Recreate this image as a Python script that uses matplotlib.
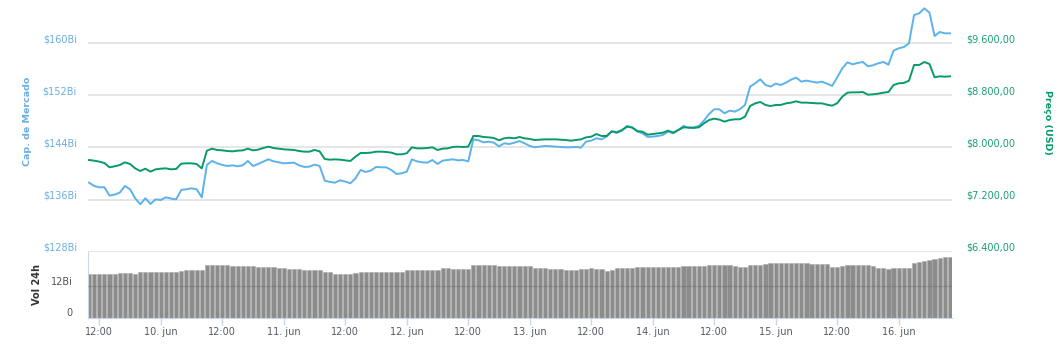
import numpy as np
import matplotlib
matplotlib.use('Agg')
import matplotlib.pyplot as plt
import matplotlib.transforms as mtransforms

# hours after 9 jun 00:00, one sample per hour
hours = np.arange(10, 179)

# market cap, billions USD
market_cap = [
    138.60, 138.09, 137.89, 137.89, 136.61, 136.76, 137.07, 138.09, 137.58, 136.20,
    135.28, 136.20, 135.33, 136.04, 135.94, 136.35, 136.15, 136.04, 137.48, 137.58,
    137.73, 137.58, 136.35, 141.32, 141.93, 141.57, 141.32, 141.16, 141.26,
    141.11, 141.26, 141.93, 141.16, 141.47, 141.83, 142.19, 141.88, 141.73, 141.57,
    141.62, 141.67, 141.26, 141.01, 141.06, 141.37, 141.16, 138.91, 138.71, 138.60,
    138.96, 138.76, 138.50, 139.27, 140.55, 140.24, 140.45, 141.01, 140.96,
    140.95, 140.54, 139.93, 140.03, 140.29, 142.18, 141.87, 141.72, 141.67, 142.08,
    141.46, 141.98, 142.08, 142.18, 142.03, 142.08, 141.87, 145.25, 145.10, 144.79,
    144.89, 144.74, 144.18, 144.64, 144.53, 144.74, 144.99, 144.64, 144.23,
    144.03, 144.13, 144.24, 144.19, 144.13, 144.08, 144.03, 144.03, 144.08, 143.98,
    144.90, 145.06, 145.41, 145.26, 145.67, 146.49, 146.23, 146.59, 147.31, 147.10,
    146.44, 146.18, 145.62, 145.67, 145.77, 145.93, 146.44, 146.18, 146.69, 147.31,
    147.05, 147.10, 147.31, 148.13, 149.15, 149.87, 149.87, 149.25, 149.66, 149.51,
    149.87, 150.53, 153.35, 153.86, 154.47, 153.60, 153.35, 153.81, 153.60, 153.96,
    154.42, 154.73, 154.11, 154.27, 154.11, 153.96, 154.11, 153.81, 153.45,
    154.78, 156.16, 157.08, 156.77, 156.98, 157.13, 156.47, 156.62, 156.93, 157.13,
    156.72, 158.87, 159.23, 159.43, 159.99, 164.35, 164.60, 165.37, 164.71, 161.12,
    161.74, 161.53, 161.53,
]

# price, USD
price = [
    7808, 7798, 7783, 7762, 7696, 7711, 7731, 7772, 7747, 7680,
    7639, 7675, 7629, 7665, 7675, 7680, 7665, 7670, 7752, 7757,
    7757, 7747, 7680, 7951, 7982, 7962, 7956, 7946, 7941,
    7951, 7956, 7982, 7956, 7967, 7992, 8013, 7992, 7982, 7972,
    7967, 7962, 7946, 7936, 7936, 7962, 7941, 7823, 7813, 7818,
    7813, 7803, 7793, 7859, 7916, 7916, 7921, 7936, 7936,
    7931, 7921, 7895, 7895, 7911, 8003, 7987, 7987, 7992, 8003,
    7962, 7982, 7987, 8008, 8013, 8008, 8013, 8177, 8177, 8161,
    8156, 8146, 8110, 8141, 8151, 8141, 8161, 8141, 8131,
    8115, 8120, 8125, 8125, 8125, 8120, 8115, 8105, 8115, 8125,
    8156, 8166, 8207, 8177, 8177, 8248, 8233, 8269, 8320, 8305,
    8253, 8243, 8197, 8207, 8218, 8228, 8259, 8228, 8269, 8310,
    8305, 8300, 8310, 8371, 8422, 8443, 8428, 8397, 8422, 8433,
    8433, 8473, 8637, 8678, 8699, 8653, 8637, 8653, 8653, 8678,
    8689, 8709, 8689, 8689, 8683, 8678, 8678, 8658, 8642,
    8680, 8781, 8842, 8847, 8847, 8852, 8811, 8817, 8827, 8842,
    8852, 8960, 8985, 8991, 9026, 9267, 9267, 9313, 9282, 9078,
    9093, 9088, 9093,
]

# 24h volume, billions USD
volume = [
    16.4, 16.4, 16.4, 16.4, 16.4, 16.5, 16.7, 16.7, 16.6, 16.3,
    17.0, 17.1, 17.1, 17.1, 17.1, 17.1, 17.3, 17.3, 17.6, 17.9,
    17.9, 17.9, 17.9, 19.8, 19.8, 19.8, 19.8, 19.7, 19.4, 19.4,
    19.3, 19.3, 19.3, 19.2, 18.9, 18.9, 18.9, 18.8, 18.5, 18.3,
    18.3, 18.2, 17.9, 17.9, 17.9, 17.8, 17.3, 17.2, 16.4, 16.4,
    16.4, 16.4, 16.8, 17.1, 17.1, 17.1, 17.3, 17.3, 17.3, 17.3,
    17.3, 17.1, 17.9, 17.9, 17.9, 17.9, 17.9, 17.9, 17.9, 18.6,
    18.6, 18.3, 18.3, 18.3, 18.3, 19.8, 19.8, 19.8, 19.8, 19.7,
    19.3, 19.3, 19.3, 19.3, 19.3, 19.3, 19.3, 18.6, 18.5, 18.5,
    18.4, 18.4, 18.3, 17.9, 17.9, 17.9, 18.2, 18.4, 18.5, 18.4,
    18.2, 17.5, 18.0, 18.6, 18.6, 18.6, 18.7, 18.9, 18.9, 18.9,
    18.9, 18.9, 18.9, 18.9, 18.9, 18.9, 19.4, 19.4, 19.4, 19.4,
    19.6, 19.8, 19.8, 19.8, 19.8, 19.8, 19.5, 18.9, 18.9, 19.8,
    19.8, 19.8, 20.1, 20.4, 20.4, 20.4, 20.4, 20.4, 20.5, 20.7,
    20.4, 20.2, 20.2, 20.2, 20.0, 19.2, 19.2, 19.5, 19.7, 19.7,
    19.7, 19.7, 19.7, 19.5, 18.6, 18.6, 18.4, 18.6, 18.6, 18.6,
    18.7, 20.7, 21.0, 21.3, 21.8, 22.0, 22.6, 22.8, 22.9,
]

cap_ticks = [128, 136, 144, 152, 160]
cap_labels = ['$128Bi', '$136Bi', '$144Bi', '$152Bi', '$160Bi']
price_ticks = [6400, 7200, 8000, 8800, 9600]
price_labels = ['$6.400,00', '$7.200,00', '$8.000,00', '$8.800,00', '$9.600,00']
vol_ticks = [0, 12]
vol_labels = ['0', '12Bi']
x_ticks = list(range(12, 169, 12))
x_labels = ['12:00', '10. jun', '12:00', '11. jun', '12:00', '12. jun', '12:00',
            '13. jun', '12:00', '14. jun', '12:00', '15. jun', '12:00', '16. jun']

BLUE = '#5cb2ea'
GREEN = '#069a6c'
AXIS = '#ccd6eb'
GRID = '#e6e6e6'

plt.rcParams['font.family'] = 'DejaVu Sans'

W, H = 1061, 358
fig = plt.figure(figsize=(W / 100, H / 100), dpi=100)
ax = fig.add_axes([88 / W, 1 - 252 / H, 864 / W, 252 / H])
axv = fig.add_axes([88 / W, 1 - 317.5 / H, 864 / W, 65.5 / H], sharex=ax)
ax2 = ax.twinx()

up = mtransforms.ScaledTranslation(0, 5 / 100, fig.dpi_scale_trans)

# price / market cap panel
ax.set_xlim(9.8, 178.4)
ax.set_ylim(127.95, 166.65)
ax2.set_ylim(6395.4, 10264.9)
for v in cap_ticks:
    ax.axhline(v, color=GRID, lw=1.4, zorder=0)
ax.plot(hours, market_cap, color=BLUE, lw=1.4, zorder=3)
ax2.plot(hours, price, color=GREEN, lw=1.4, zorder=3)

for a in (ax, ax2):
    for s in a.spines.values():
        s.set_visible(False)
ax.tick_params(axis='x', bottom=False, labelbottom=False)
ax.set_yticks(cap_ticks)
ax.set_yticklabels(cap_labels)
ax.tick_params(axis='y', length=0, pad=8, labelsize=7, labelcolor='#6aaee3')
ax2.set_yticks(price_ticks)
ax2.set_yticklabels(price_labels)
ax2.tick_params(axis='y', length=0, pad=10, labelsize=7, labelcolor='#1a9e78')
for lab in ax.get_yticklabels() + ax2.get_yticklabels():
    lab.set_transform(lab.get_transform() + up)

ax.text(-0.0706, 0.52, 'Cap. de Mercado', transform=ax.transAxes, rotation=90,
        ha='center', va='center', fontsize=6.8, fontweight='bold', color='#6aaee3')
ax2.text(1.1102, 0.515, 'Preço (USD)', transform=ax2.transAxes, rotation=270,
         ha='center', va='center', fontsize=6.8, fontweight='bold', color=GREEN)

# volume panel
axv.set_ylim(0, 24.7)
axv.bar(hours, volume, width=0.82, color='#8c8c8c', edgecolor='#a8a8a8',
        linewidth=0.4, zorder=2)
axv.axhline(12, color='#555555', lw=1, alpha=0.25, zorder=3)
for k in ('top', 'right'):
    axv.spines[k].set_visible(False)
axv.spines['left'].set_color(AXIS)
axv.spines['bottom'].set_color(AXIS)
axv.set_yticks(vol_ticks)
axv.set_yticklabels(vol_labels)
axv.tick_params(axis='y', length=0, pad=11, labelsize=7, labelcolor='#555555')
for lab in axv.get_yticklabels():
    lab.set_transform(lab.get_transform() + up)
axv.set_xticks(x_ticks)
axv.set_xticklabels(x_labels)
axv.tick_params(axis='x', length=5, width=1, color=AXIS, pad=1.5,
                labelsize=7, labelcolor='#555a66')
axv.text(-0.0585, 0.5, 'Vol 24h', transform=axv.transAxes, rotation=90,
         ha='center', va='center', fontsize=7, fontweight='bold', color='#333333')

fig.savefig('out.png', dpi=100)
